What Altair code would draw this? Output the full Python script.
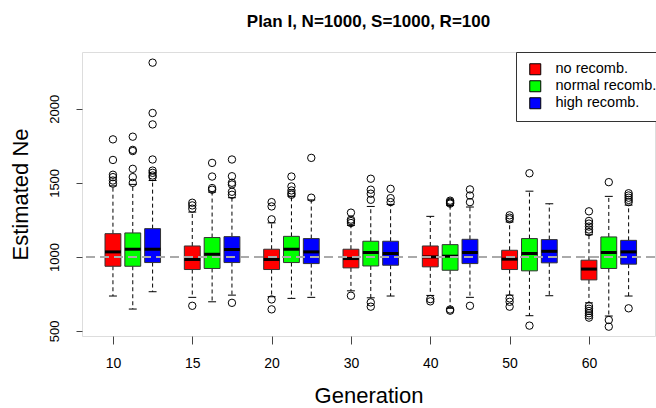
import altair as alt
import pandas as pd

generations = ["10", "15", "20", "30", "40", "50", "60"]
series = ["no recomb.", "normal recomb.", "high recomb."]
colors = ["#ff0000", "#00ff00", "#0000ff"]

# no recombination (red)
no_q1 = [937, 915, 915, 926, 933, 915, 845]
no_med = [1034, 983, 983, 989, 1000, 985, 918]
no_q3 = [1157, 1074, 1052, 1052, 1074, 1045, 978]
no_wlo = [736, 727, 731, 771, 740, 742, 690]
no_whi = [1480, 1303, 1230, 1213, 1274, 1236, 1150]
no_out = [
    [1794, 1655, 1555, 1539, 1516, 1495],
    [1366, 1348, 1326, 670],
    [1370, 1341, 1254, 713, 646],
    [1299, 1252, 1242, 1229, 738],
    [715, 700],
    [1281, 1265, 1254, 720, 697, 664],
    [1308, 1243, 1225, 1205, 1185, 1168, 668, 650, 635, 620, 605, 590],
]

# normal recombination (green)
nr_q1 = [937, 922, 962, 939, 910, 906, 922]
nr_med = [1052, 1018, 1052, 1030, 1005, 1023, 1030]
nr_q3 = [1162, 1131, 1139, 1106, 1083, 1124, 1135]
nr_wlo = [648, 697, 720, 724, 653, 603, 601]
nr_whi = [1490, 1438, 1410, 1341, 1348, 1444, 1409]
nr_out = [
    [1812, 1723, 1715, 1595, 1539, 1500],
    [1635, 1543, 1465, 1454],
    [1543, 1476, 1449, 1431, 1420],
    [1528, 1454, 1427, 1386, 693, 664],
    [1380, 1372, 1366, 1360, 645, 637],
    [1565, 536],
    [1505, 574, 529],
]

# high recombination (blue)
hr_q1 = [962, 962, 955, 944, 955, 960, 951]
hr_med = [1052, 1050, 1034, 1023, 1030, 1038, 1034]
hr_q3 = [1191, 1137, 1124, 1106, 1119, 1117, 1112]
hr_wlo = [765, 742, 727, 736, 727, 738, 736]
hr_whi = [1516, 1400, 1385, 1355, 1337, 1359, 1350]
hr_out = [
    [2312, 1972, 1895, 1658, 1583, 1568, 1550, 1539],
    [1658, 1545, 1501, 1489, 1440, 1420, 690],
    [1669, 1400],
    [1460, 1397, 1370],
    [1456, 1415, 1370, 670],
    [],
    [1430, 1415, 1400, 1385, 1370, 653],
]

stats = [
    (no_q1, no_med, no_q3, no_wlo, no_whi, no_out),
    (nr_q1, nr_med, nr_q3, nr_wlo, nr_whi, nr_out),
    (hr_q1, hr_med, hr_q3, hr_wlo, hr_whi, hr_out),
]

box_rows, whisk_rows, cap_rows, out_rows = [], [], [], []
for k, (q1, med, q3, wlo, whi, outs) in enumerate(stats):
    for g in range(len(generations)):
        p = 4 * g + k
        box_rows.append(dict(series=series[k], p=p, pl=p - 0.4, pr=p + 0.4,
                             q1=q1[g], med=med[g], q3=q3[g]))
        whisk_rows.append(dict(p=p, y=q3[g], y2=whi[g]))
        whisk_rows.append(dict(p=p, y=q1[g], y2=wlo[g]))
        cap_rows.append(dict(pl=p - 0.2, pr=p + 0.2, y=whi[g]))
        cap_rows.append(dict(pl=p - 0.2, pr=p + 0.2, y=wlo[g]))
        for v in outs[g]:
            out_rows.append(dict(p=p, v=v))

box_df = pd.DataFrame(box_rows)
whisk_df = pd.DataFrame(whisk_rows)
cap_df = pd.DataFrame(cap_rows)
out_df = pd.DataFrame(out_rows)

FONT = "Liberation Sans"
xscale = alt.Scale(domain=[-1.56, 27.33], nice=False, zero=False)
yscale = alt.Scale(domain=[466, 2384], nice=False, zero=False)

label_expr = "[" + ",".join("'" + g + "'" for g in generations) + "][round(datum.value / 4)]"

xaxis = alt.Axis(values=[4 * i for i in range(len(generations))], labelExpr=label_expr,
                 title="Generation", titleFontSize=22, titleFont=FONT, titleFontWeight="normal",
                 titleColor="black", titleY=59, titleBaseline="middle",
                 labelFontSize=14, labelFont=FONT, labelColor="black", labelPadding=12,
                 tickSize=8, tickColor="#444", domain=False, grid=False)
yaxis = alt.Axis(values=[500, 1000, 1500, 2000], format="d", title="Estimated Ne", titleFontSize=22,
                 titleFont=FONT, titleFontWeight="normal", titleColor="black",
                 titleX=-62, titleBaseline="middle",
                 labelAngle=-90, labelAlign="center", labelBaseline="bottom",
                 labelFontSize=13, labelFont=FONT, labelColor="black", labelPadding=15,
                 tickSize=6, tickColor="#444", domain=False, grid=False)

base_x = alt.X("p:Q", scale=xscale, axis=xaxis)

whiskers = alt.Chart(whisk_df).mark_rule(color="black", strokeWidth=1, strokeDash=[4, 3]).encode(
    x=base_x,
    y=alt.Y("y:Q", scale=yscale, axis=yaxis),
    y2="y2:Q",
)

caps = alt.Chart(cap_df).mark_rule(color="black", strokeWidth=1).encode(
    x=alt.X("pl:Q", scale=xscale, axis=xaxis), x2="pr:Q",
    y=alt.Y("y:Q", scale=yscale, axis=yaxis),
)

boxes = alt.Chart(box_df).mark_bar(stroke="#333", strokeWidth=1).encode(
    x=alt.X("pl:Q", scale=xscale, axis=xaxis), x2="pr:Q",
    y=alt.Y("q1:Q", scale=yscale, axis=yaxis), y2="q3:Q",
    color=alt.Color("series:N", scale=alt.Scale(domain=series, range=colors), sort=series,
                    legend=alt.Legend(title=None, orient="none", legendX=434, legendY=0,
                                      symbolType="square", symbolSize=121,
                                      symbolStrokeColor="black", symbolStrokeWidth=1,
                                      labelFontSize=14.5, labelFont=FONT, labelColor="black",
                                      strokeColor="#333", fillColor="white",
                                      padding=10, rowPadding=1, labelOffset=13,
                                      symbolOffset=2)),
)

medians = alt.Chart(box_df).mark_rule(color="black", strokeWidth=3).encode(
    x=alt.X("pl:Q", scale=xscale, axis=xaxis), x2="pr:Q",
    y=alt.Y("med:Q", scale=yscale, axis=yaxis),
)

refline = alt.Chart(box_df).mark_rule(color="#aaaaaa", strokeWidth=2, strokeDash=[9, 5]).encode(
    y=alt.datum(1000, scale=yscale),
)

outliers = alt.Chart(out_df).mark_point(shape="circle", filled=False, size=55, color="black",
                                        strokeWidth=1, opacity=1).encode(
    x=base_x,
    y=alt.Y("v:Q", scale=yscale, axis=yaxis),
)

chart = alt.layer(whiskers, caps, boxes, medians, refline, outliers).properties(
    width=573, height=284,
    title=alt.TitleParams("Plan I, N=1000, S=1000, R=100", fontSize=17, font=FONT,
                          fontWeight="bold", anchor="middle", offset=21, color="black"),
    autosize=alt.AutoSizeParams(type="none"),
    padding={"left": 82, "top": 52, "right": 1, "bottom": 72},
).configure_view(stroke="#555", strokeWidth=1.2).configure(background="white")

chart.save("out.html", embed_options={"renderer": "svg", "actions": False})
